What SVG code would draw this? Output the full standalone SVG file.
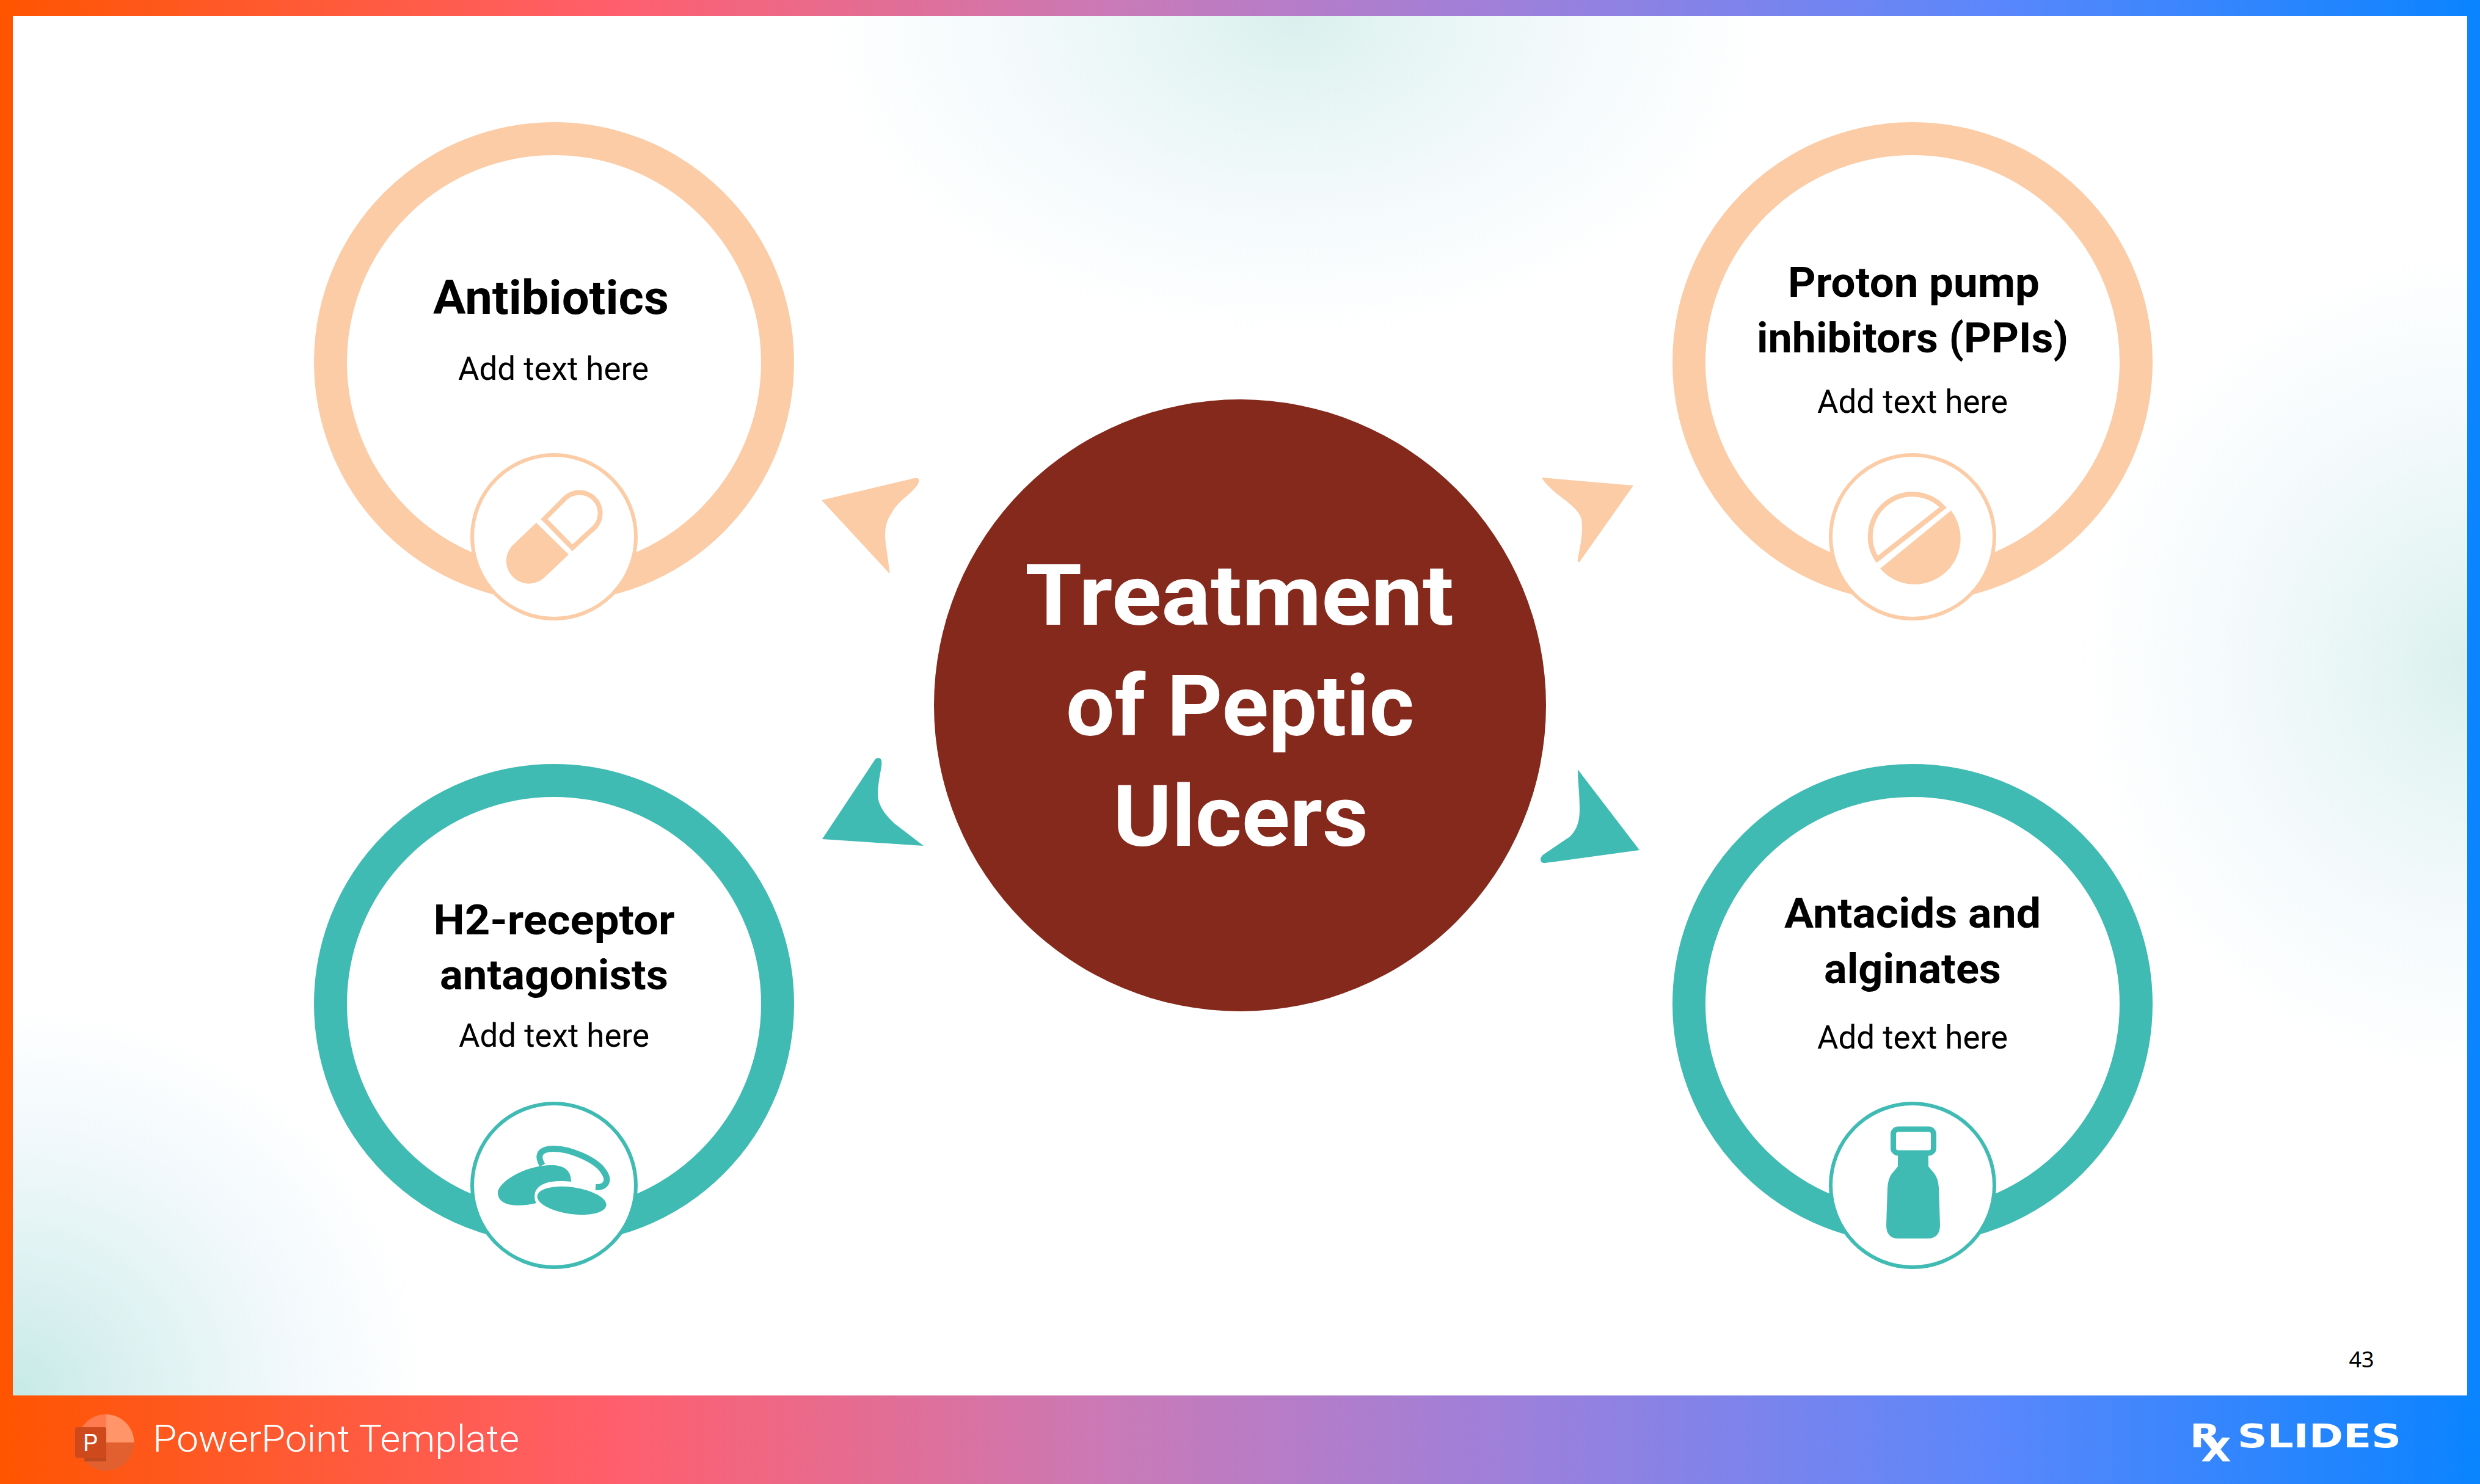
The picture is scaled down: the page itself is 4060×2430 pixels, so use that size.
<svg xmlns="http://www.w3.org/2000/svg" width="4060" height="2430" viewBox="0 0 4060 2430">
<defs>
<style>
.t{font-family:Roboto,"Liberation Sans",sans-serif;text-anchor:middle}
.h{font-size:69px;font-weight:700;fill:#000}
.a{font-size:77px;font-weight:700;fill:#000}
.b{font-size:53px;font-weight:400;fill:#000}
.c{font-size:139px;font-weight:700;fill:#fff}
.ringP{fill:none;stroke:#FBCCA6;stroke-width:54}
.ringT{fill:none;stroke:#40BBB3;stroke-width:54}
.badgeP{fill:#fff;stroke:#FBCCA6;stroke-width:6}
.badgeT{fill:#fff;stroke:#40BBB3;stroke-width:6}
.fP{fill:#FBCCA6}.fT{fill:#40BBB3}
.sP{fill:none;stroke:#FBCCA6;stroke-width:8}
.sT{fill:none;stroke:#40BBB3}
.logo{font-family:"DejaVu Sans",sans-serif;font-size:53px;font-weight:700;fill:#fff}
</style>
<linearGradient id="bar" gradientUnits="userSpaceOnUse" x1="0" y1="0" x2="4060" y2="0">
<stop offset="0" stop-color="#FF5500"/><stop offset="0.25" stop-color="#FF5F6D"/><stop offset="0.45" stop-color="#C97AB8"/><stop offset="0.62" stop-color="#9A80DD"/><stop offset="0.8" stop-color="#5C87FB"/><stop offset="1" stop-color="#0A84FF"/>
</linearGradient>
<radialGradient id="glow"><stop offset="0" stop-color="#DAF0ED"/><stop offset="0.25" stop-color="#E6F5F4"/><stop offset="0.6" stop-color="#F4FAFC"/><stop offset="1" stop-color="#FFFFFF"/></radialGradient>
<radialGradient id="glow2"><stop offset="0" stop-color="#C6EAE6"/><stop offset="0.35" stop-color="#DFF2F2"/><stop offset="0.7" stop-color="#F3F9FC"/><stop offset="1" stop-color="#FFFFFF"/></radialGradient>
</defs>
<rect width="4060" height="2430" fill="#fff"/>
<g id="background">
<ellipse cx="2120" cy="30" rx="780" ry="520" fill="url(#glow)"/>
<ellipse cx="4050" cy="1090" rx="650" ry="680" fill="url(#glow)"/>
<ellipse cx="20" cy="2285" rx="680" ry="640" fill="url(#glow2)"/>
</g>
<g id="frame">
<rect width="4060" height="26" fill="url(#bar)"/>
<rect width="21" height="2430" fill="#FF5500"/>
<rect x="4039" width="21" height="2430" fill="#0A84FF"/>
<rect y="2285" width="4060" height="145" fill="url(#bar)"/>
</g>
<g id="connectors">
<path class="fP" d="M1345 819L1497 783Q1506 781 1504 790C1498 805 1470 820 1461 838C1449 855 1448 870 1450 890L1457 940Z"/>
<path class="fP" d="M2524 782L2674 795L2586 920Q2582 922 2583 915C2588 890 2592 870 2589 850C2582 825 2540 810 2524 782Z"/>
<path class="fT" d="M1346 1374L1433 1243Q1438 1239 1442 1243Q1444 1246 1443 1254C1441 1270 1435 1290 1438 1310C1442 1325 1452 1337 1465 1349L1512 1385Z"/>
<path class="fT" d="M2583 1260L2684 1392L2530 1413Q2522 1414 2522 1407Q2522 1402 2530 1397L2570 1370C2582 1358 2586 1345 2586 1325C2586 1300 2583 1280 2583 1260Z"/>
</g>
<g id="center">
<circle cx="2030" cy="1155" r="501" fill="#84291C"/>
<text class="t c" x="2029" y="1023" textLength="702" lengthAdjust="spacingAndGlyphs">Treatment</text>
<text class="t c" x="2030" y="1204" textLength="570" lengthAdjust="spacingAndGlyphs">of Peptic</text>
<text class="t c" x="2031" y="1385" textLength="418" lengthAdjust="spacingAndGlyphs">Ulcers</text>
</g>
<g id="antibiotics">
<circle class="ringP" cx="907" cy="593" r="366"/>
<circle class="badgeP" cx="907" cy="879" r="134"/>
<path class="fP" d="M878 856L931 908L894 943A37 37 0 0 1 838 894Z"/>
<path class="sP" d="M891 850L926 815A34 34 0 0 1 974 863L937 897Z"/>
<text class="t a" x="902" y="514" textLength="386" lengthAdjust="spacingAndGlyphs">Antibiotics</text>
<text class="t b" x="906" y="622" textLength="312" lengthAdjust="spacingAndGlyphs">Add text here</text>
</g>
<g id="ppis">
<circle class="ringP" cx="3131" cy="593" r="366"/>
<circle class="badgeP" cx="3131" cy="879" r="134"/>
<path class="fP" d="M3194 836A75 75 0 0 1 3078 931Z"/>
<path class="sP" d="M3073 916A69 69 0 0 1 3181 831Z"/>
<text class="t h" x="3133" y="486" textLength="412" lengthAdjust="spacingAndGlyphs">Proton pump</text>
<text class="t h" x="3131" y="577" textLength="510" lengthAdjust="spacingAndGlyphs">inhibitors (PPIs)</text>
<text class="t b" x="3131" y="676" textLength="312" lengthAdjust="spacingAndGlyphs">Add text here</text>
</g>
<g id="h2">
<circle class="ringT" cx="907" cy="1644" r="366"/>
<circle class="badgeT" cx="907" cy="1941" r="134"/>
<path class="fT" d="M815 1953C816 1935 860 1908 903 1908C922 1908 935 1915 935 1935C905 1932 885 1936 877 1950C874 1958 875 1965 878 1970C855 1976 815 1978 815 1953Z"/>
<ellipse class="fT" cx="936" cy="1966" rx="57" ry="22" transform="rotate(8 936 1966)"/>
<path class="sT" stroke-width="10" d="M888 1908C880 1895 880 1882 905 1881C930 1880 975 1898 988 1918C1000 1935 990 1945 975 1944"/>
<text class="t h" x="907" y="1530" textLength="395" lengthAdjust="spacingAndGlyphs">H2-receptor</text>
<text class="t h" x="907" y="1620" textLength="374" lengthAdjust="spacingAndGlyphs">antagonists</text>
<text class="t b" x="907" y="1714" textLength="312" lengthAdjust="spacingAndGlyphs">Add text here</text>
</g>
<g id="antacids">
<circle class="ringT" cx="3131" cy="1644" r="366"/>
<circle class="badgeT" cx="3131" cy="1941" r="134"/>
<rect class="sT" stroke-width="9" x="3099.500" y="1849" width="66" height="39" rx="8"/>
<path class="fT" d="M3107 1888H3157V1910L3167 1922Q3173 1930 3174 1945L3176 2006Q3176 2028 3155 2028H3108Q3088 2028 3088 2006L3090 1945Q3091 1930 3097 1922L3107 1910Z"/>
<text class="t h" x="3131" y="1519" textLength="420" lengthAdjust="spacingAndGlyphs">Antacids and</text>
<text class="t h" x="3131" y="1610" textLength="290" lengthAdjust="spacingAndGlyphs">alginates</text>
<text class="t b" x="3131" y="1717" textLength="312" lengthAdjust="spacingAndGlyphs">Add text here</text>
</g>
<g id="footer">
<path d="M173.500 2362V2316A46 46 0 0 0 127 2362Z" fill="#FF7B4F"/>
<path d="M173.500 2362V2316A46 46 0 0 1 219.500 2362Z" fill="#FF9568"/>
<path d="M127 2362A46 46 0 0 0 219.500 2362Z" fill="#E2602F"/>
<rect x="138" y="2345" width="36" height="48" fill="#A83A15" opacity="0.6"/>
<rect x="123" y="2337" width="51" height="50" rx="3" fill="#CE4A1C"/>
<text x="148" y="2376" font-family="Roboto, sans-serif" font-size="38" fill="#fff" text-anchor="middle">P</text>
<text x="250" y="2377" font-family="Roboto, sans-serif" font-size="62" font-weight="300" fill="#fff" textLength="600" lengthAdjust="spacingAndGlyphs">PowerPoint Template</text>
<text x="3866" y="2239" font-family="Noto Sans, sans-serif" text-anchor="middle" font-size="36" fill="#000">43</text>
<text class="logo" x="3585" y="2370" textLength="50" lengthAdjust="spacingAndGlyphs">R</text>
<text class="logo" x="3603" y="2393" textLength="50" lengthAdjust="spacingAndGlyphs">X</text>
<text class="logo" x="3663" y="2370" textLength="268" lengthAdjust="spacingAndGlyphs">SLIDES</text>
</g>
</svg>
